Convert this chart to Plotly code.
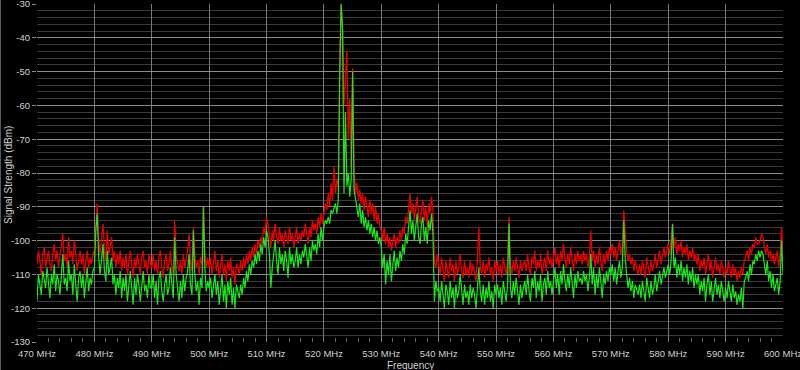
import plotly.graph_objects as go

# Frequency grid: 470 MHz to 600 MHz in 0.25 MHz steps
freq_start = 470.0
freq_step = 0.25

# Peak-hold trace (red), dBm, 20 values per 5 MHz
red_dbm = [
    -107,-103,-106,-110,-104,-102,-108,-105,-103,-107,-109,-104,-101,-106,-103,-108,-105,-102,-98,-106,
    -104,-108,-99,-105,-103,-107,-100,-104,-109,-106,-103,-107,-104,-110,-106,-103,-108,-105,-107,-104,
    -103,-95,-89,-100,-104,-99,-95,-103,-106,-97,-104,-102,-99,-106,-103,-108,-104,-107,-103,-109,
    -105,-108,-104,-110,-106,-103,-107,-111,-105,-108,-104,-107,-110,-105,-103,-108,-106,-110,-104,-107,
    -108,-104,-109,-106,-110,-105,-103,-108,-111,-106,-104,-109,-107,-103,-108,-110,-94,-104,-107,-109,
    -106,-110,-104,-108,-105,-103,-98,-106,-109,-96,-104,-108,-106,-110,-105,-107,-90,-103,-108,-105,
    -108,-105,-110,-107,-103,-109,-106,-111,-108,-104,-110,-107,-112,-106,-109,-105,-111,-108,-113,-107,
    -108,-110,-106,-109,-105,-108,-104,-107,-103,-106,-102,-105,-101,-104,-100,-102,-99,-101,-96,-98,
    -93,-95,-98,-102,-97,-100,-95,-99,-101,-96,-100,-98,-102,-97,-99,-101,-96,-100,-98,-102,
    -99,-96,-101,-98,-100,-97,-99,-95,-98,-101,-96,-99,-94,-97,-95,-98,-93,-96,-92,-95,
    -92,-89,-91,-86,-90,-83,-88,-78,-86,-82,-84,-47,-30,-36,-60,-52,-44,-70,-58,-78,
    -49,-78,-86,-83,-88,-85,-89,-86,-91,-87,-90,-93,-88,-92,-89,-94,-90,-95,-92,-96,
    -97,-100,-96,-101,-98,-102,-99,-103,-100,-98,-102,-99,-101,-97,-100,-96,-98,-93,-95,-90,
    -86,-92,-89,-94,-90,-87,-93,-95,-91,-88,-94,-90,-96,-89,-92,-87,-91,-106,-108,-104,
    -107,-110,-105,-109,-112,-106,-108,-111,-105,-109,-107,-112,-106,-110,-108,-104,-109,-111,-106,-110,
    -108,-111,-106,-110,-107,-109,-112,-105,-96,-108,-110,-106,-111,-107,-109,-105,-110,-108,-112,-106,
    -109,-106,-110,-107,-111,-105,-108,-110,-106,-93,-107,-110,-106,-109,-105,-108,-111,-106,-109,-107,
    -106,-109,-104,-108,-110,-105,-107,-103,-109,-106,-108,-104,-110,-107,-105,-109,-103,-107,-105,-108,
    -105,-102,-107,-104,-108,-103,-106,-101,-105,-108,-104,-107,-102,-106,-109,-104,-107,-103,-106,-104,
    -107,-103,-106,-104,-108,-105,-97,-106,-103,-108,-104,-107,-102,-106,-109,-104,-107,-103,-106,-102,
    -104,-101,-105,-102,-106,-103,-100,-104,-102,-91,-99,-103,-106,-104,-107,-105,-109,-106,-108,-110,
    -107,-110,-106,-109,-111,-105,-108,-110,-106,-109,-107,-104,-108,-106,-103,-107,-104,-102,-105,-103,
    -101,-104,-100,-95,-102,-99,-104,-101,-103,-100,-105,-102,-104,-101,-106,-103,-105,-102,-106,-104,
    -107,-104,-109,-106,-108,-105,-110,-107,-104,-109,-106,-111,-108,-105,-109,-107,-110,-106,-108,-111,
    -108,-110,-106,-109,-111,-107,-110,-108,-112,-109,-111,-108,-110,-106,-105,-103,-106,-102,-104,-101,
    -102,-99,-101,-101,-100,-98,-99,-102,-104,-101,-105,-103,-106,-104,-107,-105,-103,-108,-104,-96,
    -103,
]

# Current trace (green), dBm, 20 values per 5 MHz
green_dbm = [
    -118,-110,-113,-116,-109,-111,-114,-108,-112,-117,-110,-113,-107,-115,-110,-112,-116,-109,-104,-113,
    -111,-115,-106,-112,-110,-116,-107,-113,-118,-111,-109,-114,-110,-117,-112,-108,-115,-111,-113,-109,
    -108,-97,-92,-105,-110,-104,-101,-109,-112,-103,-110,-108,-105,-113,-110,-116,-111,-114,-109,-117,
    -111,-115,-110,-118,-112,-109,-114,-119,-111,-116,-110,-113,-118,-112,-109,-115,-113,-117,-110,-114,
    -114,-110,-117,-112,-119,-111,-109,-115,-118,-113,-110,-116,-114,-108,-113,-117,-99,-110,-114,-118,
    -112,-117,-110,-115,-111,-109,-104,-113,-116,-97,-110,-115,-112,-119,-111,-114,-90,-108,-115,-112,
    -114,-111,-117,-113,-110,-116,-112,-119,-115,-110,-118,-113,-120,-112,-116,-111,-119,-114,-120,-113,
    -115,-117,-113,-116,-111,-114,-109,-112,-107,-110,-106,-108,-104,-107,-103,-106,-101,-104,-99,-102,
    -97,-99,-104,-114,-108,-103,-100,-106,-110,-102,-107,-104,-109,-103,-106,-111,-102,-107,-104,-108,
    -106,-102,-108,-104,-107,-103,-105,-101,-104,-108,-102,-106,-100,-103,-101,-104,-98,-102,-96,-100,
    -96,-94,-95,-93,-95,-91,-92,-90,-89,-92,-88,-52,-30,-38,-86,-62,-84,-80,-87,-82,
    -50,-85,-88,-90,-93,-89,-95,-91,-96,-93,-97,-94,-98,-95,-99,-96,-100,-97,-101,-99,
    -102,-108,-104,-113,-106,-110,-104,-112,-107,-103,-109,-105,-108,-103,-106,-101,-104,-98,-101,-95,
    -91,-98,-94,-100,-96,-92,-99,-101,-95,-93,-100,-96,-101,-94,-97,-92,-98,-118,-112,-115,
    -114,-118,-112,-116,-120,-113,-115,-119,-112,-117,-114,-120,-113,-117,-115,-110,-116,-119,-113,-117,
    -115,-119,-113,-117,-114,-116,-120,-112,-108,-115,-118,-113,-119,-114,-117,-112,-118,-115,-120,-113,
    -116,-113,-117,-114,-119,-112,-115,-118,-113,-95,-114,-117,-112,-116,-111,-115,-119,-113,-117,-114,
    -112,-116,-110,-115,-118,-111,-114,-109,-117,-112,-115,-110,-118,-113,-111,-116,-109,-114,-112,-116,
    -111,-108,-114,-110,-116,-109,-113,-107,-112,-115,-110,-114,-108,-113,-117,-110,-114,-109,-112,-111,
    -113,-109,-112,-110,-115,-111,-104,-113,-108,-116,-110,-114,-108,-112,-117,-110,-113,-109,-112,-108,
    -110,-107,-112,-108,-113,-109,-106,-111,-108,-94,-105,-110,-114,-111,-115,-112,-117,-113,-115,-116,
    -113,-117,-112,-116,-118,-111,-115,-117,-112,-116,-114,-110,-115,-112,-109,-113,-110,-108,-111,-109,
    -107,-110,-106,-95,-108,-105,-111,-107,-110,-106,-112,-108,-111,-107,-113,-109,-112,-108,-114,-110,
    -113,-110,-116,-112,-115,-111,-118,-113,-110,-116,-112,-118,-114,-111,-116,-113,-117,-112,-115,-118,
    -114,-117,-112,-116,-118,-113,-117,-115,-119,-116,-118,-114,-120,-112,-111,-109,-112,-107,-110,-106,
    -107,-104,-106,-103,-105,-103,-104,-107,-110,-106,-112,-109,-114,-110,-115,-113,-111,-116,-112,-100,
    -110,
]

freqs = [freq_start + i * freq_step for i in range(len(red_dbm))]

x_tick_vals = list(range(470, 601, 10))
x_tick_text = [f"{v} MHz" for v in x_tick_vals]
y_tick_vals = list(range(-130, -29, 10))
y_tick_text = [str(v) for v in y_tick_vals]

fig = go.Figure()
fig.add_trace(go.Scatter(x=freqs, y=red_dbm, mode="lines",
                         line=dict(color="#e60000", width=1.3), name="Max", showlegend=False))
fig.add_trace(go.Scatter(x=freqs, y=green_dbm, mode="lines",
                         line=dict(color="#1ee61e", width=1.2), name="Current", showlegend=False))

tick_font = dict(family="Liberation Sans, Arial, sans-serif", size=9.5, color="#d0d0d0")
title_font = dict(family="Liberation Sans, Arial, sans-serif", size=10, color="#d0d0d0")

fig.update_layout(
    width=800, height=370,
    margin=dict(l=37, r=17, t=4, b=28, autoexpand=False),
    paper_bgcolor="black", plot_bgcolor="black",
    font=title_font,
    showlegend=False,
    xaxis=dict(
        range=[470, 600], tickvals=x_tick_vals, ticktext=x_tick_text,
        showgrid=True, gridcolor="#7a7a7a", gridwidth=1,
        ticks="inside", ticklen=5, tickcolor="#7a7a7a",
        minor=dict(dtick=2, tick0=470, ticks="inside", ticklen=4, tickcolor="#666666", showgrid=False),
        zeroline=False, showline=False,
        tickfont=tick_font, automargin=False, ticklabeloverflow="allow",
        ticklabelstandoff=4,
    ),
    yaxis=dict(
        range=[-130, -30], tickvals=y_tick_vals, ticktext=y_tick_text,
        showgrid=True, gridcolor="#8c8c8c", gridwidth=1,
        ticks="outside", ticklen=4, tickcolor="#8c8c8c",
        minor=dict(dtick=2, tick0=-130, showgrid=True, gridcolor="#3a3a3a", ticks=""),
        zeroline=False, showline=False,
        tickfont=tick_font, automargin=False, ticklabeloverflow="allow",
    ),
    annotations=[
        dict(text="Frequency", xref="paper", yref="paper", x=0.5, y=-0.071,
             xanchor="center", yanchor="middle", showarrow=False, font=title_font),
        dict(text="Signal Strength (dBm)", xref="paper", yref="paper", x=-0.0389, y=0.494,
             xanchor="center", yanchor="middle", showarrow=False, font=title_font, textangle=-90),
    ],
    shapes=[
        dict(type="line", xref="paper", yref="paper", x0=-36.5 / 746, x1=-36.5 / 746,
             y0=-28 / 338, y1=1 + 4 / 338, line=dict(color="#5a5a5a", width=1)),
    ],
)

fig.write_html(
    "out.html",
    config={"displayModeBar": False},
    post_script="document.body.style.margin='0';document.body.style.background='black';",
)
